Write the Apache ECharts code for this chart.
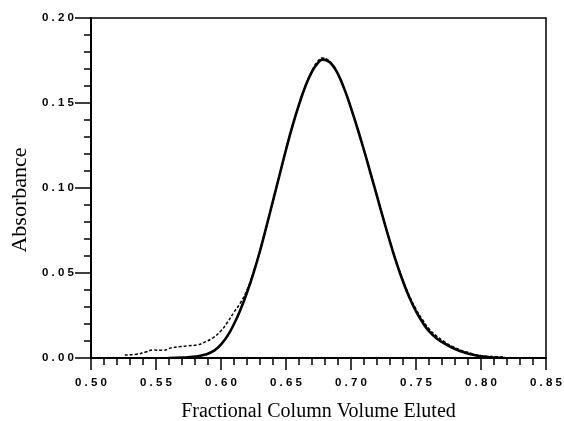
<!DOCTYPE html>
<html>
<head>
<meta charset="utf-8">
<script src="https://cdn.jsdelivr.net/npm/echarts@6/dist/echarts.min.js"></script>
<style>html,body{margin:0;padding:0;background:#fff}#c{width:564px;height:421px}</style>
</head>
<body>
<div id="c"></div>
<script>
// Fitted curve (solid)
var fitX = [0.560,0.570,0.580,0.588,0.595,0.600,0.605,0.610,0.615,0.620,0.625,0.630,0.635,0.640,0.645,0.650,0.655,0.660,0.665,0.670,0.674,0.678,0.682,0.686,0.690,0.695,0.700,0.705,0.710,0.715,0.720,0.725,0.730,0.735,0.740,0.745,0.750,0.755,0.760,0.766,0.772,0.778,0.785,0.792,0.800,0.810,0.818];
var fitY = [0.0000,0.0002,0.0008,0.0020,0.0045,0.0080,0.0130,0.0200,0.0285,0.0385,0.0500,0.0630,0.0775,0.0925,0.1075,0.1225,0.1365,0.1490,0.1600,0.1685,0.1730,0.1755,0.1748,0.1720,0.1670,0.1580,0.1470,0.1350,0.1222,0.1088,0.0952,0.0815,0.0683,0.0560,0.0450,0.0355,0.0275,0.0210,0.0158,0.0115,0.0085,0.0060,0.0038,0.0022,0.0010,0.0003,0.0000];
// Measured data (dashed)
var dataX = [0.526,0.535,0.542,0.548,0.555,0.562,0.5685,0.575,0.5813,0.588,0.594,0.600,0.605,0.610,0.615,0.620,0.625,0.630,0.635,0.640,0.645,0.650,0.655,0.660,0.665,0.670,0.674,0.678,0.682,0.686,0.690,0.695,0.700,0.705,0.710,0.715,0.720,0.725,0.730,0.735,0.740,0.745,0.750,0.755,0.760,0.766,0.772,0.778,0.785,0.792,0.798,0.804,0.810,0.818];
var dataY = [0.0018,0.0022,0.0035,0.0047,0.0045,0.0060,0.0067,0.0072,0.0076,0.0095,0.0120,0.0160,0.0210,0.0270,0.0325,0.0400,0.0505,0.0630,0.0775,0.0925,0.1075,0.1225,0.1365,0.1490,0.1600,0.1690,0.1740,0.1765,0.1755,0.1725,0.1670,0.1580,0.1470,0.1350,0.1222,0.1088,0.0952,0.0815,0.0685,0.0565,0.0458,0.0365,0.0288,0.0225,0.0172,0.0128,0.0095,0.0068,0.0045,0.0028,0.0017,0.0010,0.0008,0.0005];
var xTicks = {min:0.50, max:0.85, step:0.05};
var yTicks = {min:0.00, max:0.20, step:0.05};
var xTitle = 'Fractional Column Volume Eluted';
var yTitle = 'Absorbance';

function zip(a,b){var r=[];for(var i=0;i<a.length;i++)r.push([a[i],b[i]]);return r;}
function spaced(v){return v.toFixed(2).split('').join(' ');}

var labelStyle = {color:'#000', fontFamily:'Liberation Sans', fontWeight:'bold', fontSize:11.5, formatter:spaced};
var chart = echarts.init(document.getElementById('c'), null, {renderer:'canvas'});
chart.setOption({
  animation:false,
  backgroundColor:'#fff',
  grid:{left:91,right:18,top:18,bottom:63,containLabel:false,outerBoundsMode:'none',show:true,borderColor:'#000',borderWidth:1.5,backgroundColor:'transparent'},
  xAxis:{type:'value',min:xTicks.min,max:xTicks.max,interval:xTicks.step,
    name:xTitle,nameLocation:'middle',nameGap:44,
    nameTextStyle:{fontFamily:'Liberation Serif',fontSize:20,color:'#000'},
    axisLine:{show:true,onZero:false,lineStyle:{color:'#000',width:2}},
    axisTick:{show:true,inside:false,length:12,lineStyle:{color:'#000',width:1.5}},
    minorTick:{show:true,splitNumber:5,length:7,lineStyle:{color:'#000',width:1.5}},
    axisLabel:Object.assign({margin:19,hideOverlap:false},labelStyle),
    splitLine:{show:false}},
  yAxis:{type:'value',min:yTicks.min,max:yTicks.max,interval:yTicks.step,
    name:yTitle,nameLocation:'middle',nameGap:60,nameRotate:90,
    nameTextStyle:{fontFamily:'Liberation Serif',fontSize:22,color:'#000',padding:[0,24,0,0]},
    axisLine:{show:true,onZero:false,lineStyle:{color:'#000',width:2}},
    axisTick:{show:true,inside:false,length:16,lineStyle:{color:'#000',width:1.5}},
    minorTick:{show:true,splitNumber:5,length:7,lineStyle:{color:'#000',width:1.5}},
    axisLabel:Object.assign({margin:17},labelStyle),
    splitLine:{show:false}},
  series:[
    {type:'line',data:zip(fitX,fitY),showSymbol:false,smooth:0.5,lineStyle:{color:'#000',width:2.6,join:'round',cap:'round'},z:3},
    {type:'line',data:zip(dataX,dataY),showSymbol:false,smooth:0.5,lineStyle:{color:'#000',width:1.5,type:[3,2]},z:2}
  ]
});
</script>
</body>
</html>
